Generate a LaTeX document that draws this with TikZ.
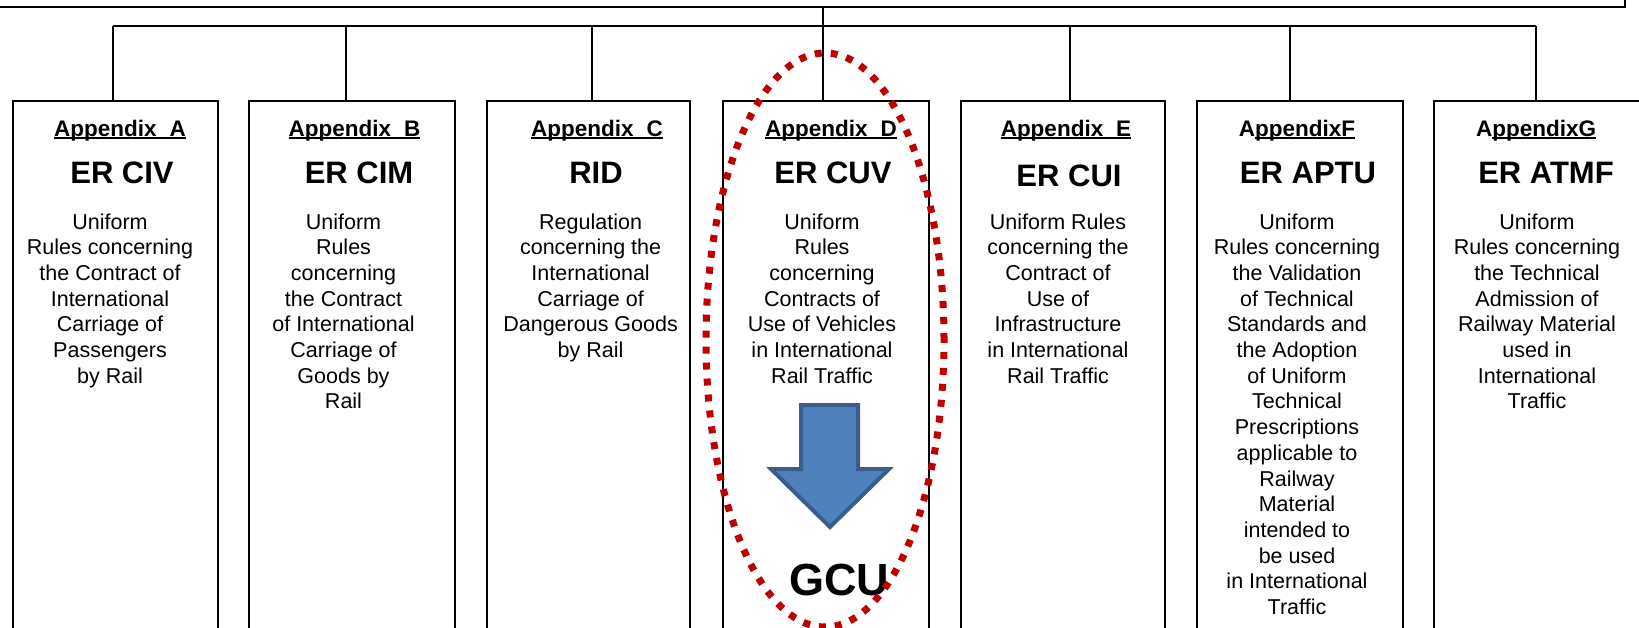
\documentclass[tikz,border=0pt]{standalone}
\usepackage{fontspec}
\setmainfont{Liberation Sans}
\newcommand\ulapp[1]{\setbox0=\hbox{#1}\rlap{\rule[-2.6pt]{\wd0}{2pt}}\box0}
\newcommand\bodytxt[1]{{\fontsize{21.5pt}{25.7pt}\selectfont\begin{tabular}[t]{@{}c@{}}#1\end{tabular}}}
\definecolor{arrowfill}{HTML}{4F81BD}
\definecolor{arrowline}{HTML}{385D8A}
\definecolor{ovalred}{HTML}{C00000}
\begin{document}
\begin{tikzpicture}[x=1pt,y=-1pt,
  apbox/.style={draw, line width=2pt, minimum width=#1, minimum height=560pt, anchor=north west, inner sep=0pt},
  aptitle/.style={anchor=base, inner sep=0pt, font=\fontsize{22.5pt}{27pt}\selectfont\bfseries},
  ertitle/.style={anchor=base, inner sep=0pt, font=\fontsize{31pt}{36pt}\selectfont\bfseries},
  bodynode/.style={anchor=base, inner sep=0pt},
  conn/.style={line width=1.4pt},
  oval/.style={draw=ovalred, line width=7pt, dash pattern=on 7pt off 9pt},
  blockarrow/.style={draw=arrowline, fill=arrowfill, line width=4pt, line join=miter}
]
\useasboundingbox (0,0) rectangle (1639,627);
\clip (0,0) rectangle (1639,627);

% top box (mostly outside the picture)
\node[draw, line width=2pt, minimum width=1700pt, minimum height=60pt, anchor=south east, inner sep=0pt] (top) at (1626,7.5) {};

% appendix boxes
\node[apbox=205pt] (A) at (12,100) {};
\node[apbox=206pt] (B) at (248,100) {};
\node[apbox=203pt] (C) at (486,100) {};
\node[apbox=206pt] (D) at (722,100) {};
\node[apbox=204pt] (E) at (960,100) {};
\node[apbox=206pt] (F) at (1196,100) {};
\node[apbox=215pt] (G) at (1433,100) {};

% connectors
\coordinate (jA) at (113,26);
\coordinate (jB) at (346,26);
\coordinate (jC) at (592,26);
\coordinate (jD) at (823,26);
\coordinate (jE) at (1070,26);
\coordinate (jF) at (1290,26);
\coordinate (jG) at (1536,26);
\coordinate (jT) at (top.south -| jD);
\draw[conn] (jA) -- (jG);
\draw[conn] (jT) -- (jD |- D.north);
\foreach \n in {A,B,C,E,F,G} \draw[conn] (j\n) -- (j\n |- \n.north);

% titles
\node[aptitle] (tA) at (120,136) {\ulapp{Appendix\hspace{13pt}A}};
\node[aptitle] (tB) at (354.5,136) {\ulapp{Appendix\hspace{13pt}B}};
\node[aptitle] (tC) at (597,136) {\ulapp{Appendix\hspace{13pt}C}};
\node[aptitle] (tD) at (831,136) {\ulapp{Appendix\hspace{13pt}D}};
\node[aptitle] (tE) at (1066,136) {\ulapp{Appendix\hspace{13pt}E}};
\node[aptitle] (tF) at (1297,136) {A\ulapp{ppendixF}};
\node[aptitle] (tG) at (1536,136) {A\ulapp{ppendixG}};

\node[ertitle] (eA) at (122,183) {ER CIV};
\node[ertitle] (eB) at (359,183) {ER CIM};
\node[ertitle] (eC) at (596,183) {RID};
\node[ertitle] (eD) at (833,183) {ER CUV};
\node[ertitle] (eE) at (1069,186) {ER CUI};
\node[ertitle] (eF) at (1308,183) {ER APTU};
\node[ertitle] (eG) at (1546,183) {ER ATMF};

% body texts
\node[bodynode] (bA) at (110,229) {\bodytxt{Uniform\\Rules concerning\\the Contract of\\International\\Carriage of\\Passengers\\by Rail}};
\node[bodynode] (bB) at (343.5,229) {\bodytxt{Uniform\\Rules\\concerning\\the Contract\\of International\\Carriage of\\Goods by\\Rail}};
\node[bodynode] (bC) at (590.6,229) {\bodytxt{Regulation\\concerning the\\International\\Carriage of\\Dangerous Goods\\by Rail}};
\node[bodynode] (bD) at (822,229) {\bodytxt{Uniform\\Rules\\concerning\\Contracts of\\Use of Vehicles\\in International\\Rail Traffic}};
\node[bodynode] (bE) at (1058,229) {\bodytxt{Uniform Rules\\concerning the\\Contract of\\Use of\\Infrastructure\\in International\\Rail Traffic}};
\node[bodynode] (bF) at (1297,229) {\bodytxt{Uniform\\Rules concerning\\the Validation\\of Technical\\Standards and\\the Adoption\\of Uniform\\Technical\\Prescriptions\\applicable to\\Railway\\Material\\intended to\\be used\\in International\\Traffic}};
\node[bodynode] (bG) at (1537,229) {\bodytxt{Uniform\\Rules concerning\\the Technical\\Admission of\\Railway Material\\used in\\International\\Traffic}};

% block arrow and GCU
\draw[blockarrow] (801,405) -- (858,405) -- (858,469) -- (889,469) -- (830,527) -- (771,469) -- (801,469) -- cycle;
\node[anchor=base, inner sep=0pt, font=\fontsize{45pt}{50pt}\selectfont\bfseries] (gcu) at (839,595) {GCU};

% dotted oval
\draw[oval] (825,340) ellipse [x radius=119pt, y radius=287pt];
\end{tikzpicture}
\end{document}
